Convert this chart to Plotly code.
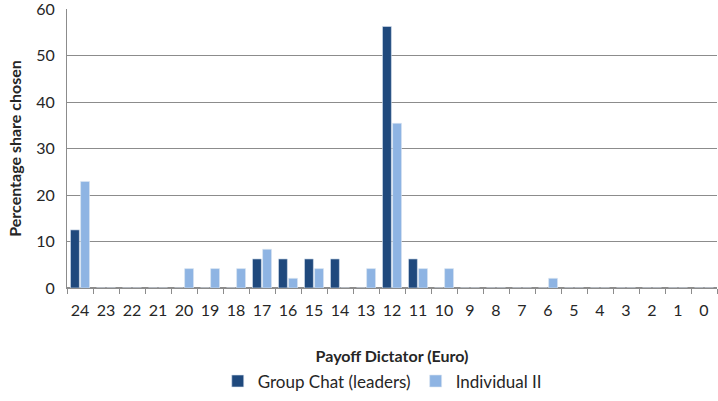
import plotly.graph_objects as go

categories = [str(v) for v in range(24, -1, -1)]
group_chat = [12.5, 0, 0, 0, 0, 0, 0, 6.25, 6.25, 6.25, 6.25, 0, 56.25, 6.25, 0, 0, 0, 0, 0, 0, 0, 0, 0, 0, 0]
individual = [22.92, 0, 0, 0, 4.17, 4.17, 4.17, 8.33, 2.08, 4.17, 0, 4.17, 35.42, 4.17, 4.17, 0, 0, 0, 2.08, 0, 0, 0, 0, 0, 0]

font_family = "Lato, 'Open Sans', sans-serif"
grey = "#8c8c8c"

fig = go.Figure()
fig.add_trace(go.Bar(x=categories, y=group_chat, name="Group Chat (leaders)",
                     marker=dict(color="#1F497D", line=dict(color="#dbe5f1", width=0.6))))
fig.add_trace(go.Bar(x=categories, y=individual, name="Individual II",
                     marker=dict(color="#8EB4E3", line=dict(color="#dbe5f1", width=0.6))))

fig.update_layout(
    width=718, height=401,
    margin=dict(l=67, r=1, t=9, b=108),
    paper_bgcolor="white", plot_bgcolor="white",
    barmode="group", bargap=0.22, bargroupgap=0.12,
    font=dict(family=font_family, size=16, color="#262626"),
    showlegend=True,
    legend=dict(orientation="h", x=0.485, xanchor="center", y=-0.335, yanchor="middle",
                font=dict(size=17), itemwidth=30, tracegroupgap=0),
    xaxis=dict(
        type="category", automargin=False, tickangle=0, ticklabeloverflow="allow",
        title=dict(text="<b>Payoff Dictator (Euro)</b>", standoff=32, font=dict(size=16)),
        showline=True, linecolor=grey, linewidth=1,
        ticks="outside", tickson="boundaries", ticklen=5, tickcolor=grey,
        ticklabelstandoff=8, showgrid=False, tickfont=dict(size=16),
    ),
    yaxis=dict(
        range=[0, 60], dtick=10, automargin=False, ticklabeloverflow="allow",
        title=dict(text="<b>Percentage share chosen</b>", standoff=10, font=dict(size=16)),
        showline=True, linecolor=grey, linewidth=1,
        showgrid=True, gridcolor=grey, gridwidth=1,
        zeroline=True, zerolinecolor=grey, ticks="", ticklabelstandoff=8,
        tickfont=dict(size=16),
    ),
)

fig.write_html("out.html", config={"displayModeBar": False},
               post_script="document.body.style.margin='0';")
